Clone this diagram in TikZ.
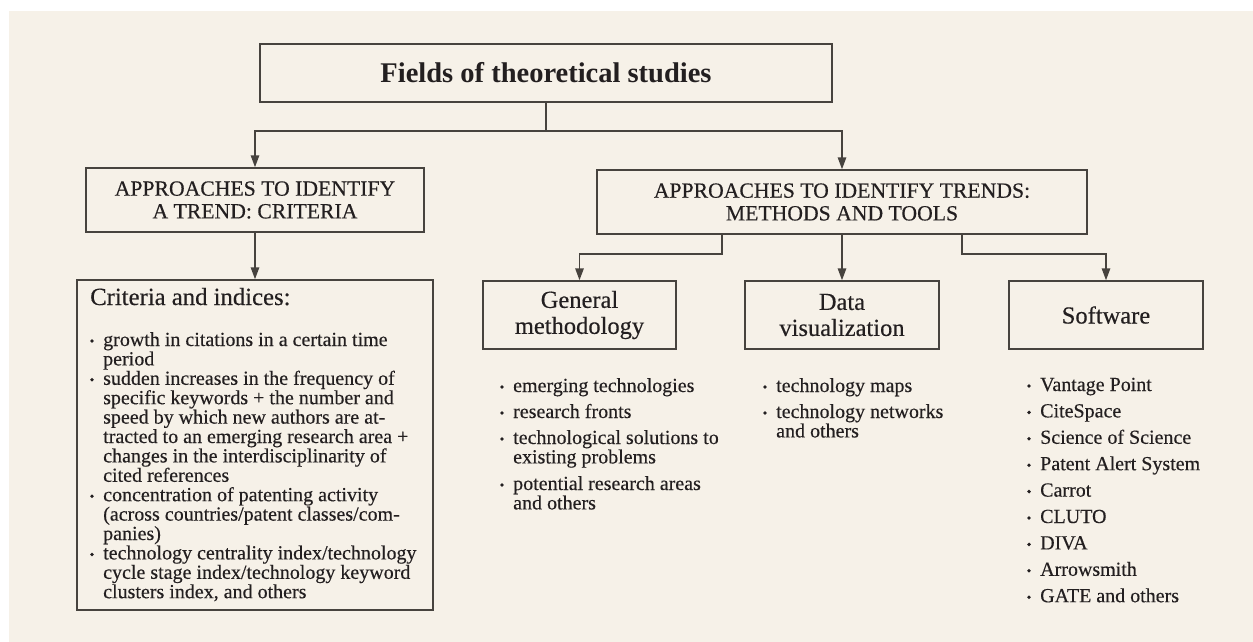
\documentclass[tikz,border=0pt]{standalone}
\usepackage{fontspec}
\setmainfont{Liberation Serif}[UprightFeatures={FakeBold=0.35}]
\usetikzlibrary{arrows.meta}
\definecolor{paper}{HTML}{F6F1E8}
\definecolor{rule}{HTML}{47433E}
\definecolor{ink}{HTML}{231F20}
% one bullet line of a list: x of text, y of baseline, node name, text
\newcommand\bulletline[4]{%
  \fill[ink] ({#1-11},{#2-5}) circle (1.9);
  \node[lst] (#3) at (#1,#2) {#4};}
\newcommand\plainline[4]{\node[lst] (#3) at (#1,#2) {#4};}
\begin{document}
\begin{tikzpicture}[x=1pt,y=-1pt,
  box/.style={draw=rule,line width=1.5pt,inner sep=0pt,align=center,text=ink},
  link/.style={draw=rule,line width=1.5pt,-{Triangle[length=12pt,width=8.5pt]}},
  plain/.style={draw=rule,line width=1.5pt},
  lst/.style={anchor=base west,inner sep=0pt,text=ink,font=\fontsize{20}{19.4}\selectfont}]
% page and panel
\useasboundingbox (0,0) rectangle (1253,642);
\fill[white] (0,0) rectangle (1253,642);
\fill[paper] (9,11) rectangle (1253,642);

% boxes
\node[box,minimum width=572,minimum height=58,font=\fontsize{28.5}{30}\selectfont\bfseries]
  (title) at (546,73) {Fields of theoretical studies};
\node[box,minimum width=338,minimum height=64,font=\fontsize{21.7}{22.7}\selectfont]
  (a1) at (255,200) {APPROACHES TO IDENTIFY\\A TREND: CRITERIA};
\node[box,minimum width=490,minimum height=64,font=\fontsize{21.7}{22.7}\selectfont]
  (a2) at (842,202) {APPROACHES TO IDENTIFY TRENDS:\\METHODS AND TOOLS};
\node[box,minimum width=356,minimum height=330] (crit) at (255,445) {};
\node[box,minimum width=193,minimum height=68,font=\fontsize{24.5}{26}\selectfont]
  (gm) at (579.5,315) {General\\methodology};
\node[box,minimum width=194,minimum height=68,font=\fontsize{24.5}{26}\selectfont]
  (dv) at (842,315) {Data\\visualization};
\node[box,minimum width=194,minimum height=68,font=\fontsize{24.5}{26}\selectfont]
  (sw) at (1106,315) {Software};

% connectors
\draw[plain] (title.south) -- ++(0,28) coordinate (split);
\draw[link] (split) -| (a1.north);
\draw[link] (split) -| (a2.north);
\draw[link] (a1.south) -- (crit.north);
\draw[link] ([xshift=-120pt]a2.south) -- ++(0,19) -| (gm.north);
\draw[link] (a2.south) -- (dv.north);
\draw[link] ([xshift=120pt]a2.south) -- ++(0,19) -| (sw.north);

% criteria list
\node[anchor=base west,inner sep=0pt,text=ink,font=\fontsize{24.7}{26}\selectfont]
  (crithead) at (90,305) {Criteria and indices:};
\bulletline{103}{346}{c1}{growth in citations in a certain time}
\plainline{103}{365.4}{c2}{period}
\bulletline{103}{384.8}{c3}{sudden increases in the frequency of}
\plainline{103}{404.2}{c4}{specific keywords + the number and}
\plainline{103}{423.6}{c5}{speed by which new authors are at-}
\plainline{103}{443}{c6}{tracted to an emerging research area +}
\plainline{103}{462.4}{c7}{changes in the interdisciplinarity of}
\plainline{103}{481.8}{c8}{cited references}
\bulletline{103}{501.2}{c9}{concentration of patenting activity}
\plainline{103}{520.6}{c10}{(across countries/patent classes/com-}
\plainline{103}{540}{c11}{panies)}
\bulletline{103}{559.4}{c12}{technology centrality index/technology}
\plainline{103}{578.8}{c13}{cycle stage index/technology keyword}
\plainline{103}{598.2}{c14}{clusters index, and others}

% general methodology list
\bulletline{513}{392}{g1}{emerging technologies}
\bulletline{513}{418}{g2}{research fronts}
\bulletline{513}{444}{g3}{technological solutions to}
\plainline{513}{463.4}{g4}{existing problems}
\bulletline{513}{490}{g5}{potential research areas}
\plainline{513}{509.4}{g6}{and others}

% data visualization list
\bulletline{776}{392}{d1}{technology maps}
\bulletline{776}{418}{d2}{technology networks}
\plainline{776}{437.4}{d3}{and others}

% software list
\bulletline{1040}{391}{s1}{Vantage Point}
\bulletline{1040}{417.4}{s2}{CiteSpace}
\bulletline{1040}{443.8}{s3}{Science of Science}
\bulletline{1040}{470.2}{s4}{Patent Alert System}
\bulletline{1040}{496.6}{s5}{Carrot}
\bulletline{1040}{523}{s6}{CLUTO}
\bulletline{1040}{549.4}{s7}{DIVA}
\bulletline{1040}{575.8}{s8}{Arrowsmith}
\bulletline{1040}{602.2}{s9}{GATE and others}
\end{tikzpicture}
\end{document}
